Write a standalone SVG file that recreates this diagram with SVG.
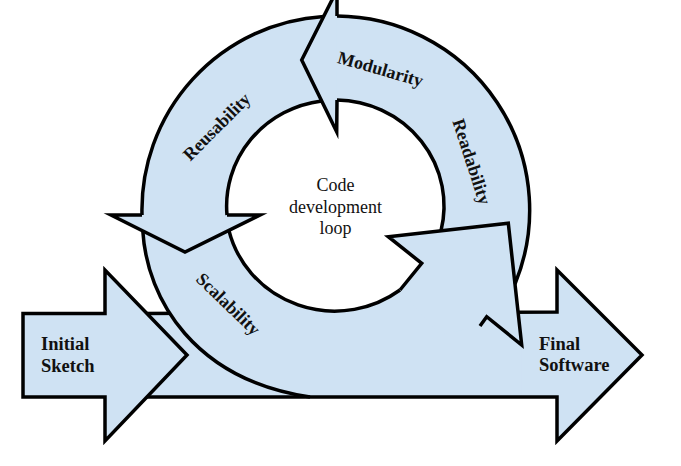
<svg xmlns="http://www.w3.org/2000/svg" width="681" height="466" viewBox="0 0 681 466">
<defs>
<style>
.shape{fill:#cfe2f3;stroke:#000;stroke-width:3.5;stroke-linejoin:miter;stroke-miterlimit:10}
.fill{fill:#cfe2f3;stroke:none}
.edge{fill:none;stroke:#000;stroke-width:3.5;stroke-linejoin:miter;stroke-miterlimit:10}
.lbl{font-family:"Liberation Serif","Times New Roman",serif;font-weight:bold;font-size:18.5px;fill:#111}
.rl{font-family:"Liberation Serif","Times New Roman",serif;font-weight:bold;font-size:18px;fill:#111;text-anchor:middle}
.ctr{font-family:"Liberation Serif","Times New Roman",serif;font-size:18px;fill:#111;text-anchor:middle}
</style>
</defs>
<rect width="681" height="466" fill="#fff"/>

<g id="final-software">
<path class="shape" d="M140,313.5 L557,312 L557,270 L642,355 L557,441 L557,397 L140,397 Z"/>
<text class="lbl" x="539" y="349.5">Final</text>
<text class="lbl" x="539" y="371">Software</text>
</g>

<g id="loop">
<path id="loop-band" class="fill" fill-rule="evenodd" d="M142,215 A194,194 0 1 1 515,284 L521.7,345 L521.7,395 L310,395 C195,380 147,300 142.8,230.9 Z M226,206 A109,106 0 1 0 444,206 A109,106 0 1 0 226,206 Z"/>

<g id="reusability">
<path class="fill" d="M111,215 L260,215 L185,252 Z"/>
<path class="edge" d="M142,215 A194,194 0 0 1 323.6,16.4"/>
<path class="edge" d="M227,215 A109,106 0 0 1 321.7,100.9"/>
<path class="edge" d="M142,215 L111,215 L185,252 L260,215 L227,215"/>
<text class="rl" transform="translate(216.7,126.7) rotate(-45)" y="6">Reusability</text>
</g>

<g id="scalability">
<path class="fill" d="M388.3,236.7 L508.3,223.3 L521.7,345 L486.7,316.7 L480,326 L440,335 L400,290 L421.7,263.3 Z"/>
<path class="edge" d="M142.8,230.9 C147,300 195,380 310,397"/>
<path class="edge" d="M228.9,230.4 A109,106 0 0 0 400,290"/>
<path class="edge" d="M400,290 L421.7,263.3 L388.3,236.7 L508.3,223.3 L521.7,345 L486.7,316.7 L480,326"/>
<text class="rl" transform="translate(228.3,304) rotate(44)" y="6">Scalability</text>
</g>

<g id="modularity-readability">
<path class="fill" d="M337,-10 L301.7,60 L336.7,131.7 Z"/>
<path class="edge" d="M337,16 A194,194 0 0 1 515,284"/>
<path class="edge" d="M337,100 A109,106 0 0 1 441,230.8"/>
<path class="edge" d="M337,16 L337,-10 L301.7,60 L336.7,131.7 L337,100"/>
<text class="rl" transform="translate(380.5,69) rotate(16)" y="6">Modularity</text>
<text class="rl" transform="translate(471.7,161.7) rotate(72)" y="6">Readability</text>
</g>

<g id="code-development-loop">
<text class="ctr" x="335.5" y="190.5">Code</text>
<text class="ctr" x="335.5" y="212.7">development</text>
<text class="ctr" x="335.5" y="234">loop</text>
</g>
</g>

<g id="initial-sketch">
<path class="shape" d="M23,313.5 L105,313.5 L105,270 L187,355 L105,441 L105,397 L23,397 Z"/>
<text class="lbl" x="41" y="350">Initial</text>
<text class="lbl" x="41" y="372">Sketch</text>
</g>
</svg>
